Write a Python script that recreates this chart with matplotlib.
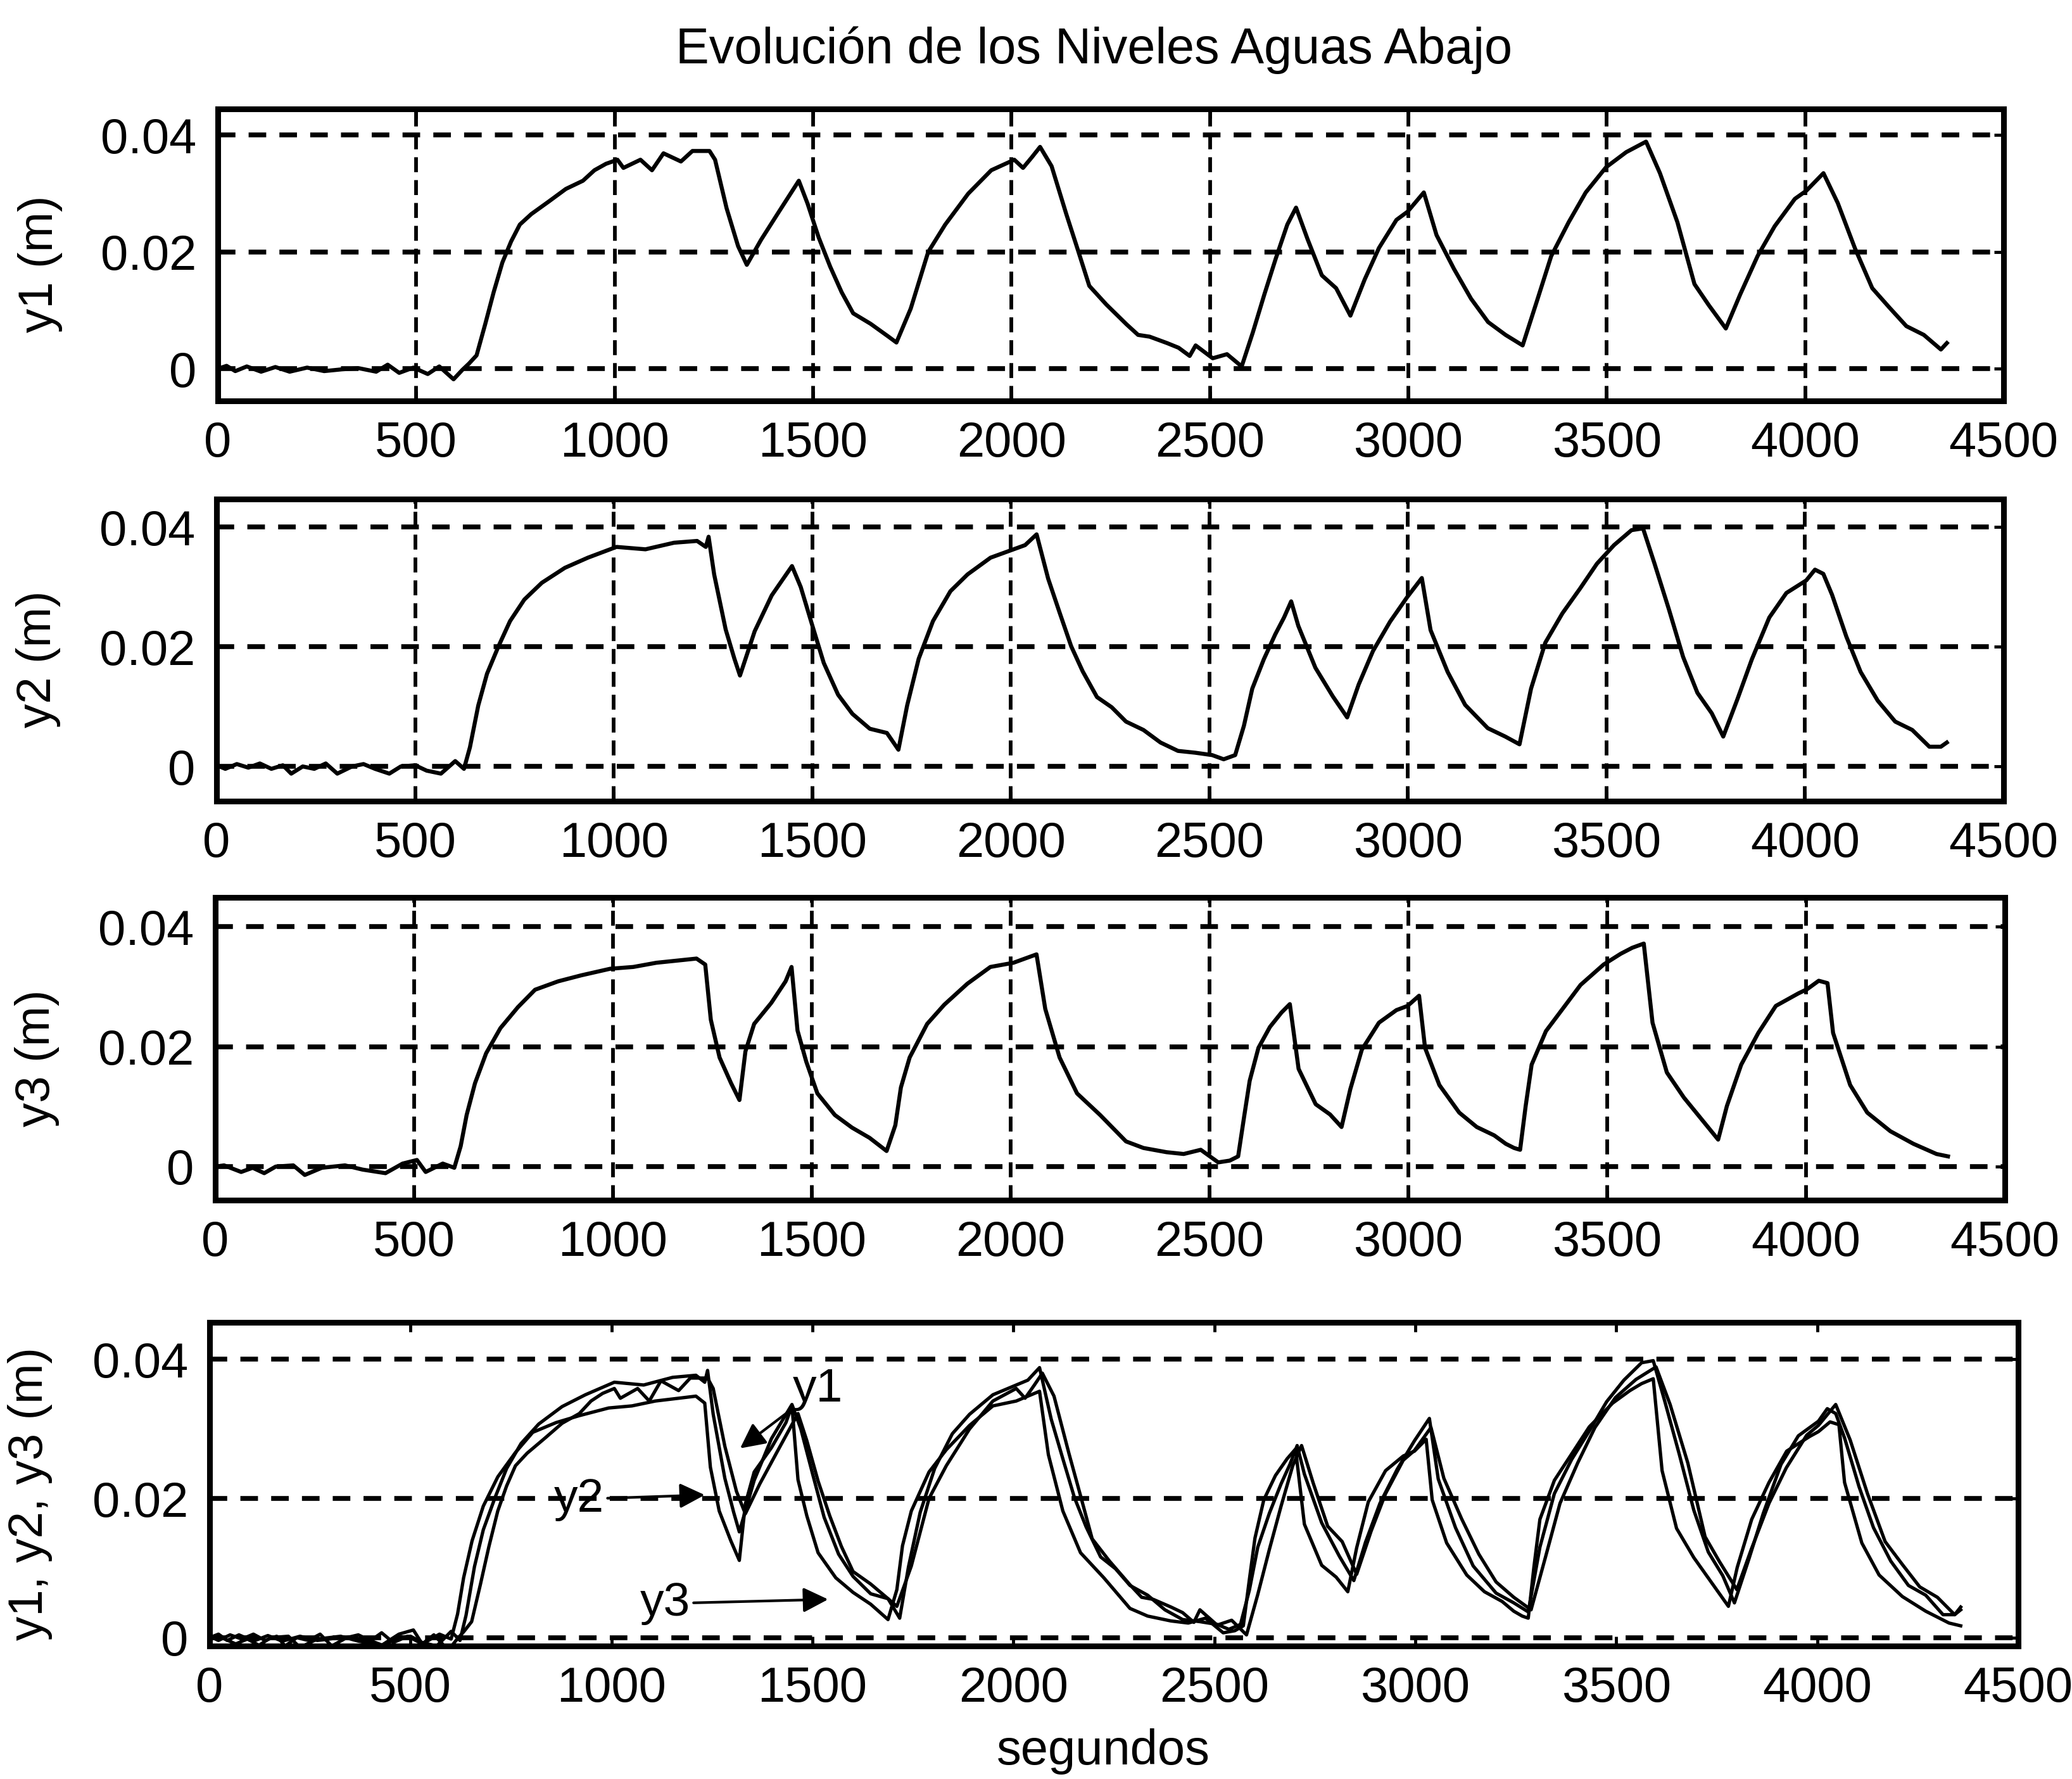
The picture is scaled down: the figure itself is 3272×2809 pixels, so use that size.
import numpy as np
import matplotlib
matplotlib.use('Agg')
import matplotlib.pyplot as plt
from matplotlib import font_manager
from matplotlib.ticker import FixedLocator, FixedFormatter

# ---- data (seconds, metres) ----
t1 = [0, 22, 44, 73, 109, 145, 181, 225, 268, 312, 355, 399, 428, 457, 493, 529, 558, 594, 616, 633,
      652, 674, 695, 717, 739, 761, 790, 833, 877, 920, 949, 978, 1007, 1022, 1065, 1094, 1123, 1167,
      1196, 1239, 1253, 1282, 1311, 1333, 1369, 1413, 1464, 1486, 1514, 1543, 1572, 1601, 1645, 1688,
      1710, 1746, 1790, 1833, 1891, 1949, 2007, 2029, 2051, 2072, 2101, 2138, 2167, 2196, 2239, 2290,
      2319, 2348, 2392, 2421, 2449, 2464, 2507, 2543, 2580, 2608, 2637, 2666, 2695, 2717, 2746, 2782,
      2818, 2854, 2890, 2926, 2970, 2998, 3039, 3071, 3115, 3158, 3201, 3245, 3288, 3324, 3360, 3404,
      3447, 3498, 3549, 3599, 3634, 3678, 3721, 3757, 3800, 3836, 3880, 3923, 3974, 4003, 4046, 4082,
      4125, 4169, 4212, 4255, 4299, 4342, 4357]
y1 = [0.0000, 0.0005, -0.0004, 0.0004, -0.0005, 0.0003, -0.0005, 0.0002, -0.0004, -0.0001, 0.0001,
      -0.0005, 0.0007, -0.0007, 0.0002, -0.0009, 0.0004, -0.0018, -0.0002, 0.0009,
      0.0023, 0.0077, 0.0131, 0.0182, 0.0218, 0.0247, 0.0265, 0.0286, 0.0308, 0.0322, 0.0340, 0.0351,
      0.0358, 0.0344, 0.0358, 0.0340, 0.0369, 0.0355, 0.0373, 0.0373, 0.0358, 0.0275, 0.0210, 0.0178,
      0.0221, 0.0268, 0.0322, 0.0283, 0.0225, 0.0175, 0.0131, 0.0095, 0.0077, 0.0056, 0.0045, 0.0103,
      0.0200, 0.0247, 0.0300, 0.0340, 0.0358, 0.0344, 0.0362, 0.0380, 0.0347, 0.0265, 0.0204, 0.0142,
      0.0110, 0.0076, 0.0058, 0.0055, 0.0044, 0.0036, 0.0022, 0.0040, 0.0018, 0.0025, 0.0004, 0.0062,
      0.0127, 0.0189, 0.0247, 0.0276, 0.0222, 0.0160, 0.0138, 0.0091, 0.0153, 0.0207, 0.0255, 0.0269,
      0.0302, 0.0229, 0.0171, 0.0120, 0.0080, 0.0058, 0.0040, 0.0116, 0.0193, 0.0251, 0.0302, 0.0345,
      0.0371, 0.0389, 0.0335, 0.0251, 0.0145, 0.0109, 0.0069, 0.0127, 0.0193, 0.0244, 0.0291, 0.0305,
      0.0335, 0.0284, 0.0207, 0.0138, 0.0105, 0.0073, 0.0058, 0.0033, 0.0044]

t2 = [0, 22, 51, 80, 109, 138, 167, 188, 217, 246, 275, 304, 341, 370, 399, 435, 464, 500, 529, 565,
      601, 623, 638, 659, 681, 710, 739, 775, 819, 877, 935, 1007, 1080, 1152, 1210, 1232, 1239, 1253,
      1282, 1304, 1318, 1355, 1398, 1449, 1471, 1500, 1529, 1565, 1601, 1645, 1688, 1717, 1739, 1768,
      1804, 1848, 1891, 1949, 2007, 2036, 2065, 2094, 2123, 2152, 2181, 2217, 2254, 2290, 2334, 2377,
      2421, 2464, 2507, 2536, 2565, 2587, 2608, 2637, 2666, 2688, 2706, 2724, 2767, 2811, 2847, 2876,
      2912, 2955, 2998, 3035, 3057, 3100, 3144, 3201, 3245, 3281, 3310, 3346, 3389, 3433, 3476, 3519,
      3563, 3592, 3621, 3657, 3693, 3729, 3765, 3794, 3830, 3866, 3910, 3953, 4003, 4025, 4046, 4068,
      4104, 4140, 4183, 4227, 4270, 4313, 4342, 4357]
y2 = [0.0002, -0.0004, 0.0004, -0.0002, 0.0005, -0.0004, 0.0002, -0.0012, 0.0000, -0.0004, 0.0005,
      -0.0012, 0.0000, 0.0004, -0.0004, -0.0012, 0.0000, 0.0002, -0.0007, -0.0012, 0.0009, -0.0004,
      0.0032, 0.0102, 0.0155, 0.0201, 0.0243, 0.0279, 0.0307, 0.0332, 0.0349, 0.0367, 0.0363, 0.0374,
      0.0377, 0.0367, 0.0384, 0.0321, 0.0229, 0.0180, 0.0152, 0.0226, 0.0286, 0.0335, 0.0300, 0.0236,
      0.0173, 0.0120, 0.0088, 0.0063, 0.0056, 0.0028, 0.0102, 0.0180, 0.0243, 0.0293, 0.0321, 0.0349,
      0.0363, 0.0370, 0.0388, 0.0314, 0.0257, 0.0201, 0.0159, 0.0116, 0.0099, 0.0075, 0.0061, 0.0040,
      0.0026, 0.0023, 0.0019, 0.0012, 0.0019, 0.0068, 0.0130, 0.0179, 0.0221, 0.0249, 0.0276, 0.0235,
      0.0165, 0.0117, 0.0082, 0.0137, 0.0193, 0.0242, 0.0283, 0.0315, 0.0228, 0.0158, 0.0103, 0.0064,
      0.0050, 0.0037, 0.0130, 0.0207, 0.0256, 0.0297, 0.0339, 0.0370, 0.0395, 0.0398, 0.0339, 0.0263,
      0.0183, 0.0123, 0.0089, 0.0050, 0.0113, 0.0179, 0.0249, 0.0290, 0.0311, 0.0329, 0.0322, 0.0287,
      0.0217, 0.0158, 0.0110, 0.0075, 0.0061, 0.0033, 0.0033, 0.0040]

t3 = [0, 22, 65, 94, 123, 152, 196, 225, 268, 326, 370, 428, 471, 507, 529, 572, 601, 617, 632, 653,
      681, 717, 761, 804, 862, 920, 993, 1051, 1109, 1167, 1210, 1232, 1246, 1268, 1297, 1318, 1333,
      1355, 1398, 1434, 1449, 1464, 1486, 1514, 1558, 1601, 1645, 1688, 1710, 1724, 1746, 1790, 1833,
      1891, 1949, 2007, 2065, 2087, 2123, 2167, 2225, 2290, 2334, 2392, 2435, 2478, 2522, 2551, 2572,
      2587, 2601, 2623, 2652, 2681, 2702, 2724, 2767, 2803, 2832, 2854, 2883, 2926, 2970, 2998, 3027,
      3042, 3078, 3128, 3172, 3216, 3245, 3266, 3281, 3295, 3310, 3346, 3389, 3433, 3491, 3534, 3563,
      3592, 3614, 3650, 3693, 3736, 3779, 3801, 3837, 3880, 3924, 3981, 4003, 4032, 4054, 4068, 4111,
      4154, 4212, 4270, 4328, 4357]
y3 = [0.0000, 0.0002, -0.0009, -0.0002, -0.0011, 0.0000, 0.0002, -0.0014, -0.0002, 0.0002, -0.0005,
      -0.0011, 0.0005, 0.0011, -0.0009, 0.0005, -0.0002, 0.0034, 0.0086, 0.0139, 0.0189, 0.0231,
      0.0266, 0.0295, 0.0309, 0.0319, 0.0330, 0.0333, 0.0340, 0.0344, 0.0347, 0.0337, 0.0245, 0.0182,
      0.0139, 0.0111, 0.0192, 0.0238, 0.0273, 0.0309, 0.0333, 0.0227, 0.0175, 0.0122, 0.0086, 0.0065,
      0.0048, 0.0026, 0.0069, 0.0132, 0.0182, 0.0238, 0.0270, 0.0305, 0.0333, 0.0340, 0.0354, 0.0263,
      0.0182, 0.0122, 0.0086, 0.0042, 0.0031, 0.0024, 0.0021, 0.0028, 0.0007, 0.0010, 0.0017, 0.0083,
      0.0143, 0.0198, 0.0233, 0.0257, 0.0271, 0.0163, 0.0104, 0.0087, 0.0066, 0.0129, 0.0195, 0.0240,
      0.0261, 0.0268, 0.0285, 0.0198, 0.0136, 0.0090, 0.0066, 0.0052, 0.0038, 0.0031, 0.0028, 0.0101,
      0.0170, 0.0226, 0.0264, 0.0303, 0.0337, 0.0355, 0.0365, 0.0372, 0.0240, 0.0157, 0.0115, 0.0080,
      0.0045, 0.0101, 0.0170, 0.0223, 0.0268, 0.0289, 0.0296, 0.0310, 0.0306, 0.0223, 0.0136, 0.0090,
      0.0059, 0.0038, 0.0021, 0.0017]

xticks = [0, 500, 1000, 1500, 2000, 2500, 3000, 3500, 4000, 4500]
yticks = [0, 0.02, 0.04]
yticklabels = ['0', '0.02', '0.04']
ylabels = ['y1 (m)', 'y2 (m)', 'y3 (m)', 'y1, y2, y3 (m)']
title = 'Evolución de los Niveles Aguas Abajo'
xlabel = 'segundos'

# ---- fonts ----
plt.rcParams['lines.scale_dashes'] = False
names = {f.name for f in font_manager.fontManager.ttflist}
if 'Liberation Sans Narrow' in names:
    tick_font, tick_size = 'Liberation Sans Narrow', 62
else:
    tick_font, tick_size = 'Liberation Sans', 56
plt.rcParams['font.family'] = ['Liberation Sans', 'DejaVu Sans']

W, H = 3272, 2809
fig = plt.figure(figsize=(W / 100, H / 100), dpi=100)
fig.patch.set_facecolor('white')

# axes boxes in pixels: left, right, top, bottom
boxes = [(344, 3164, 172, 633), (342, 3164, 788, 1265), (340, 3166, 1417, 1895), (331, 3187, 2088, 2599)]
ylims = [(-0.0055, 0.0445), (-0.0058, 0.0447), (-0.0056, 0.0449), (-0.0012, 0.0453)]

axes = []
for i, (l, r, t, b) in enumerate(boxes):
    ax = fig.add_axes([l / W, 1 - b / H, (r - l) / W, (b - t) / H])
    ax.set_xlim(0, 4500)
    ax.set_ylim(*ylims[i])
    ax.xaxis.set_major_locator(FixedLocator(xticks))
    ax.yaxis.set_major_locator(FixedLocator(yticks))
    ax.yaxis.set_major_formatter(FixedFormatter(yticklabels))
    ax.tick_params(direction='in', length=11, width=3.5, top=True, right=True, color='black')
    ax.tick_params(axis='x', pad=22)
    ax.tick_params(axis='y', pad=24)
    for lab in ax.get_xticklabels() + ax.get_yticklabels():
        lab.set_fontfamily(tick_font)
        lab.set_fontsize(tick_size)
    for sp in ax.spines.values():
        sp.set_linewidth(6.5)
        sp.set_color('black')
    ax.yaxis.grid(True, color='black', linestyle=(0, (20, 15)), linewidth=5.5)
    if i < 3:
        ax.xaxis.grid(True, color='black', linestyle=(0, (17, 9)), linewidth=4.2)
    ax.set_ylabel(ylabels[i], fontsize=55)
    ax.yaxis.set_label_coords(-0.087, 0.47)
    axes.append(ax)

series = [(t1, y1), (t2, y2), (t3, y3)]
for ax, (t, y) in zip(axes[:3], series):
    ax.plot(t, y, color='black', linewidth=4.6)
for t, y in series:
    axes[3].plot(t, y, color='black', linewidth=3.8)

# labels with arrows on the combined plot
arrow = dict(arrowstyle='-|>', color='black', lw=3, mutation_scale=60, shrinkA=2, shrinkB=0)
axes[3].annotate('y1', xy=(1320, 0.0272), xytext=(1514, 0.0357), fontsize=54,
                 ha='center', va='center', arrowprops=arrow)
axes[3].annotate('y2', xy=(1232, 0.0205), xytext=(919, 0.0199), fontsize=54,
                 ha='center', va='center', arrowprops=arrow)
axes[3].annotate('y3', xy=(1539, 0.0055), xytext=(1133, 0.0049), fontsize=54,
                 ha='center', va='center', arrowprops=arrow)

fig.text(1728 / W, 1 - 79 / H, title, fontsize=57, ha='center', va='center')
fig.text(1742 / W, 1 - 2765 / H, xlabel, fontsize=56, ha='center', va='center')

fig.savefig('out.png', dpi=100, facecolor='white')
